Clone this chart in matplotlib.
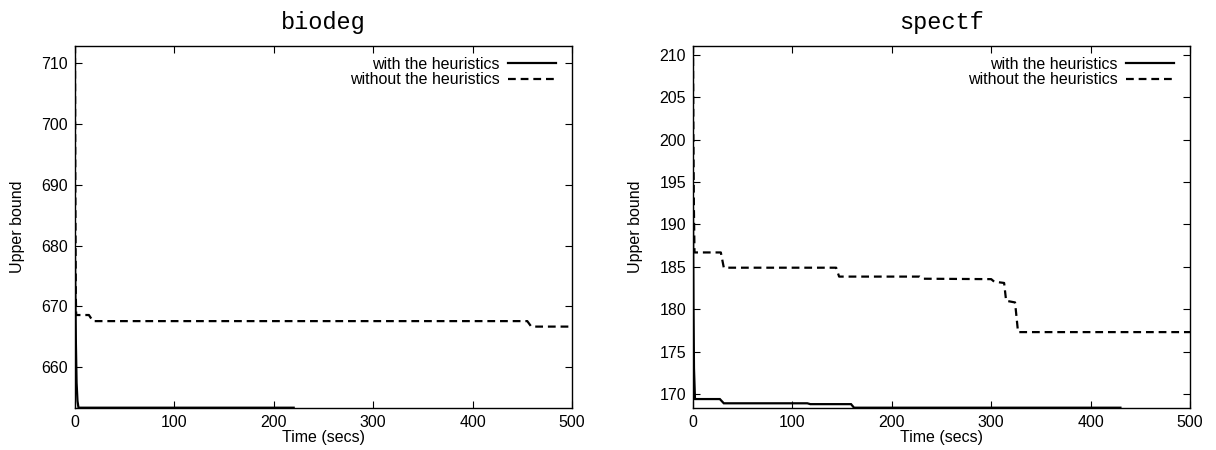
import matplotlib
matplotlib.use("Agg")
import matplotlib.pyplot as plt

# ---- data ----
bio_with_t = [0, 0.4, 0.9, 1.6, 2.5, 3.5, 220]
bio_with_v = [678.3, 672.0, 664.0, 657.5, 654.5, 653.4, 653.4]
bio_without_t = [0, 0.3, 0.8, 1.2, 14, 18, 455, 459, 500]
bio_without_v = [712.8, 690.0, 672.0, 668.6, 668.6, 667.6, 667.6, 666.7, 666.7]

spe_with_t = [0, 0.5, 1.0, 2.0, 27, 31, 115, 118, 159, 162, 430]
spe_with_v = [192.0, 180.0, 173.0, 169.4, 169.4, 168.9, 168.9, 168.8, 168.8, 168.38, 168.38]
spe_without_t = [0, 0.4, 0.9, 1.5, 28, 31, 144, 147, 228, 231, 300, 303, 313, 315, 324, 327, 500]
spe_without_v = [211.12, 200.0, 192.0, 186.7, 186.7, 184.9, 184.9, 183.85, 183.85, 183.6, 183.55,
                 183.25, 183.1, 181.0, 180.8, 177.3, 177.3]

titles = ["biodeg", "spectf"]
yticks_bio = [660, 670, 680, 690, 700, 710]
yticks_spe = [170, 175, 180, 185, 190, 195, 200, 205, 210]
xticks = [0, 100, 200, 300, 400, 500]
ylims = [(653.4, 712.8), (168.38, 211.12)]
labels = ["with the heuristics", "without the heuristics"]

plt.rcParams['font.family'] = ['Liberation Sans', 'DejaVu Sans']

fig = plt.figure(figsize=(12.16, 4.5), dpi=100)
ax1 = fig.add_axes([75/1216, 1-407.7/450, 497/1216, (407.7-45.5)/450])
ax2 = fig.add_axes([693/1216, 1-407.7/450, 497/1216, (407.7-45.5)/450])

series = [
    (ax1, bio_with_t, bio_with_v, bio_without_t, bio_without_v, yticks_bio, ylims[0], titles[0]),
    (ax2, spe_with_t, spe_with_v, spe_without_t, spe_without_v, yticks_spe, ylims[1], titles[1]),
]

for ax, wt, wv, nt, nv, yt, yl, title in series:
    ax.plot(wt, wv, color='black', lw=1.6, solid_joinstyle='miter', label=labels[0])
    ax.plot(nt, nv, color='black', lw=1.6, dashes=(3.5, 2.2), label=labels[1])
    ax.set_xlim(0, 500)
    ax.set_ylim(*yl)
    ax.set_xticks(xticks)
    ax.set_yticks(yt)
    ax.tick_params(direction='in', top=True, right=True, length=5, width=0.8,
                   labelsize=11.5, pad=5)
    for s in ax.spines.values():
        s.set_linewidth(1.0)
    ax.set_xlabel("Time (secs)", fontsize=11.5, labelpad=0)
    ax.set_ylabel("Upper bound", fontsize=11.5, labelpad=12)
    ax.set_title(title, fontsize=17, family=['Liberation Mono', 'DejaVu Sans Mono'], pad=12)
    ax.legend(loc='upper right', frameon=False, markerfirst=False, fontsize=11.5,
              handlelength=3.0, handletextpad=0.5, labelspacing=0.05,
              borderaxespad=0.3, bbox_to_anchor=(0.99, 1.0))

fig.savefig("out.png", dpi=100)
